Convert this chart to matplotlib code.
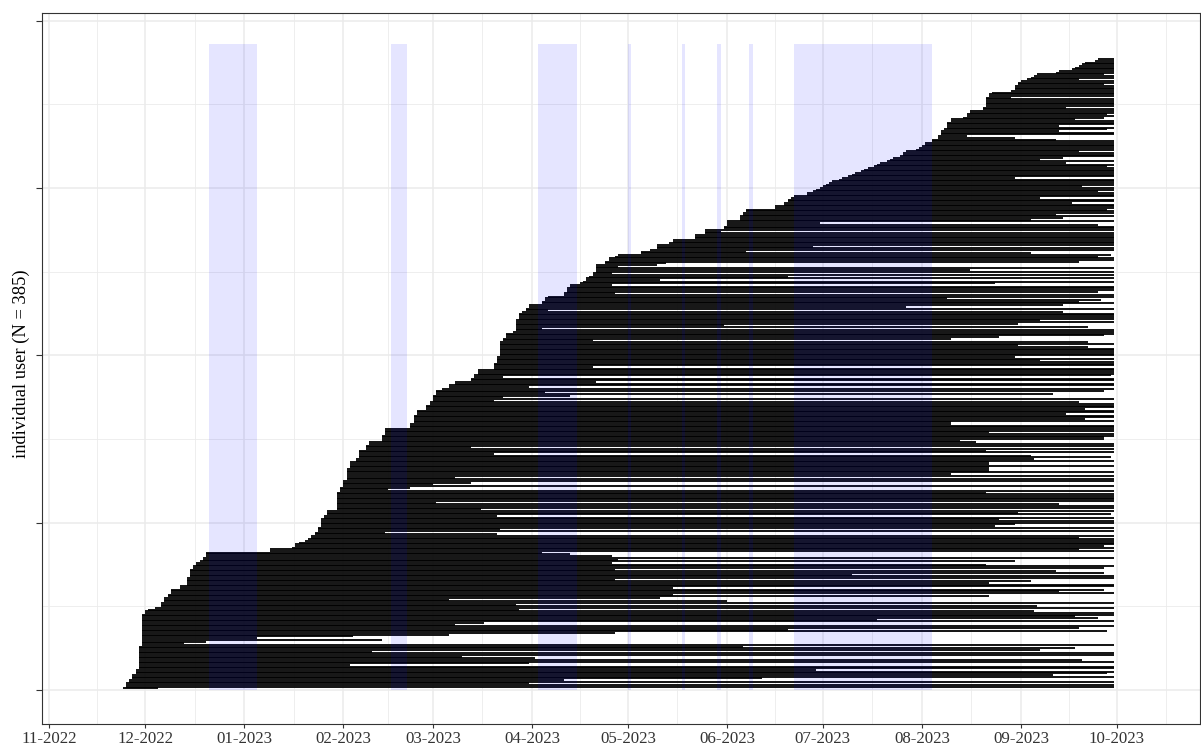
import numpy as np
import pandas as pd
import matplotlib
matplotlib.use("Agg")
import matplotlib.pyplot as plt
import matplotlib.dates as mdates

# =========================
# DATA
# =========================

# day offsets from 2022-11-01, one per user (sorted by first use)
base_date = "2022-11-01"

start_day = [
    23, 24, 24, 24, 25, 25, 26, 26, 26, 27,
    27, 27, 28, 28, 28, 28, 28, 28, 28, 28,
    28, 28, 28, 28, 28, 28, 29, 29, 29, 29,
    29, 29, 29, 29, 29, 29, 29, 29, 29, 29,
    29, 29, 29, 29, 29, 30, 30, 31, 33, 35,
    35, 35, 36, 36, 36, 37, 37, 38, 38, 38,
    41, 41, 43, 43, 43, 43, 43, 44, 44, 44,
    44, 44, 45, 45, 46, 46, 47, 48, 48, 49,
    49, 49, 69, 69, 76, 77, 77, 78, 80, 81,
    82, 82, 83, 83, 84, 84, 84, 85, 85, 85,
    85, 85, 86, 86, 87, 87, 87, 90, 90, 90,
    90, 90, 90, 90, 90, 90, 90, 90, 91, 91,
    91, 92, 92, 92, 92, 93, 93, 93, 93, 93,
    93, 93, 94, 94, 94, 94, 96, 96, 97, 97,
    97, 97, 97, 99, 99, 99, 100, 100, 104, 104,
    104, 104, 105, 105, 105, 105, 113, 113, 113, 114,
    114, 114, 114, 114, 115, 115, 115, 118, 118, 118,
    119, 119, 120, 120, 120, 120, 121, 121, 121, 123,
    125, 125, 127, 127, 132, 132, 133, 133, 134, 134,
    134, 139, 139, 139, 139, 140, 140, 140, 140, 141,
    141, 141, 141, 141, 141, 141, 141, 141, 142, 142,
    143, 143, 143, 145, 146, 146, 146, 146, 146, 146,
    146, 147, 147, 147, 147, 148, 149, 149, 150, 150,
    154, 154, 155, 155, 156, 161, 161, 162, 162, 162,
    163, 163, 166, 167, 168, 168, 169, 170, 170, 171,
    171, 171, 171, 171, 174, 174, 175, 175, 177, 178,
    185, 185, 188, 190, 190, 190, 194, 195, 195, 202,
    202, 202, 205, 205, 205, 211, 211, 212, 212, 212,
    216, 216, 216, 217, 217, 218, 218, 227, 227, 230,
    230, 231, 231, 232, 233, 237, 237, 239, 240, 241,
    242, 243, 244, 245, 247, 248, 250, 251, 252, 254,
    255, 256, 258, 259, 260, 262, 263, 264, 266, 267,
    267, 268, 271, 272, 273, 274, 274, 276, 276, 278,
    278, 279, 279, 279, 280, 281, 281, 281, 281, 282,
    282, 286, 287, 287, 288, 288, 292, 292, 293, 293,
    293, 293, 293, 293, 294, 294, 295, 301, 302, 302,
    302, 303, 303, 304, 306, 307, 308, 309, 315, 316,
    320, 321, 322, 323, 324, 327, 328, 333, 333, 333,
    333, 333, 333, 333, 333,
]

end_day = [
    34, 333, 333, 150, 333, 161, 223, 333, 314, 331,
    333, 240, 333, 333, 94, 150, 333, 323, 152, 129,
    333, 333, 101, 310, 321, 217, 333, 42, 49, 104,
    65, 95, 125, 177, 331, 231, 322, 333, 127, 136,
    333, 259, 328, 321, 333, 333, 308, 147, 333, 309,
    146, 333, 212, 125, 191, 294, 195, 333, 316, 330,
    195, 333, 333, 294, 307, 177, 333, 333, 251, 330,
    315, 177, 330, 333, 293, 176, 302, 178, 333, 176,
    163, 154, 333, 322, 333, 330, 333, 333, 333, 333,
    322, 333, 140, 105, 333, 141, 333, 296, 302, 333,
    333, 297, 333, 140, 332, 303, 333, 135, 333, 333,
    316, 121, 333, 333, 333, 333, 333, 293, 333, 106,
    113, 333, 120, 132, 333, 333, 127, 333, 282, 333,
    294, 294, 294, 333, 294, 294, 333, 308, 332, 307,
    139, 333, 293, 333, 132, 333, 333, 290, 285, 330,
    330, 333, 333, 294, 333, 333, 333, 333, 282, 282,
    333, 324, 333, 333, 318, 333, 333, 324, 333, 333,
    333, 322, 139, 333, 142, 163, 314, 155, 330, 333,
    150, 333, 333, 171, 333, 333, 142, 332, 333, 333,
    333, 333, 170, 333, 333, 333, 310, 333, 302, 333,
    333, 333, 333, 333, 325, 303, 333, 325, 170, 282,
    297, 330, 333, 333, 333, 154, 325, 211, 303, 333,
    310, 333, 333, 333, 333, 317, 156, 333, 268, 317,
    333, 322, 329, 281, 333, 333, 177, 328, 333, 333,
    333, 176, 296, 333, 191, 333, 231, 333, 176, 333,
    288, 333, 178, 190, 193, 322, 333, 333, 328, 332,
    307, 218, 333, 333, 239, 333, 333, 333, 333, 333,
    333, 333, 333, 210, 333, 333, 333, 328, 241, 333,
    307, 317, 333, 315, 333, 333, 331, 333, 333, 333,
    320, 333, 333, 310, 333, 333, 333, 328, 333, 333,
    323, 333, 333, 333, 333, 302, 333, 333, 333, 333,
    333, 333, 331, 333, 318, 333, 310, 317, 333, 333,
    333, 322, 333, 333, 333, 333, 333, 333, 315, 302,
    287, 333, 333, 316, 331, 333, 316, 333, 333, 333,
    321, 330, 333, 331, 333, 333, 333, 318, 333, 333,
    333, 333, 333, 301, 333, 333, 333, 333, 333, 333,
    333, 330, 333, 333, 322, 333, 333, 330, 333, 333,
    333, 333, 333, 333, 333, 333, 333, 333, 333, 333,
    333, 333, 333, 333, 333,
]

# school holidays / public holidays (shaded)
holiday_start = ["2022-12-21", "2023-02-16", "2023-04-03", "2023-05-01",
                 "2023-05-18", "2023-05-29", "2023-06-08", "2023-06-22"]
holiday_end = ["2023-01-05", "2023-02-21", "2023-04-15", "2023-05-02",
               "2023-05-19", "2023-05-30", "2023-06-09", "2023-08-04"]

n_users = len(start_day)

# =========================
# PREP
# =========================

t0 = mdates.date2num(pd.Timestamp(base_date))
x_start = t0 + np.array(start_day)
x_end = t0 + np.array(end_day)
user = np.arange(1, n_users + 1)

h_start = mdates.date2num(pd.to_datetime(holiday_start))
h_end = mdates.date2num(pd.to_datetime(holiday_end))

# =========================
# PLOT
# =========================

plt.rcParams['font.family'] = ['Liberation Serif', 'DejaVu Serif']

fig = plt.figure(figsize=(12.01, 7.49), dpi=100)
ax = fig.add_axes([42 / 1201, 25 / 749, 1158 / 1201, 711 / 749])

ax.hlines(user, x_start, x_end, color="black", linewidth=1.3,
          capstyle="butt", zorder=2)

ax.bar(h_start, n_users + 1, width=h_end - h_start, bottom=0, align="edge",
       color="blue", alpha=0.1, linewidth=0, zorder=3)

# axes / scales
ax.set_xlim(t0 - 2.28, t0 + 360.0)
ax.set_ylim(-20.3, 404.6)

months = pd.date_range("2022-11-01", "2023-11-01", freq="MS")
month_num = mdates.date2num(months)
ax.set_xticks(month_num[:-1])
ax.set_xticklabels(months[:-1].strftime("%m-%Y"))
ax.set_xticks((month_num[:-1] + month_num[1:]) / 2, minor=True)

ax.set_yticks([0, 100, 200, 300, 400])
ax.set_yticklabels([])
ax.set_yticks([50, 150, 250, 350], minor=True)

ax.grid(which="major", color="#EBEBEB", linewidth=1.1, zorder=0)
ax.grid(which="minor", color="#EBEBEB", linewidth=0.6, zorder=0)
ax.set_axisbelow(True)

ax.tick_params(axis="x", which="major", length=3.2, width=0.8, color="#333333",
               labelsize=12.2, labelcolor="#333333", pad=2)
ax.tick_params(axis="y", which="major", length=4.3, width=0.8, color="#333333")
ax.tick_params(which="minor", length=0)

for s in ax.spines.values():
    s.set_color("#333333")
    s.set_linewidth(0.8)

fig.text(21 / 1201, 1 - 364 / 749, "individual user (N = 385)", rotation=90,
         ha="center", va="center", fontsize=13.3, color="black")

fig.savefig("out.png", dpi=100)
